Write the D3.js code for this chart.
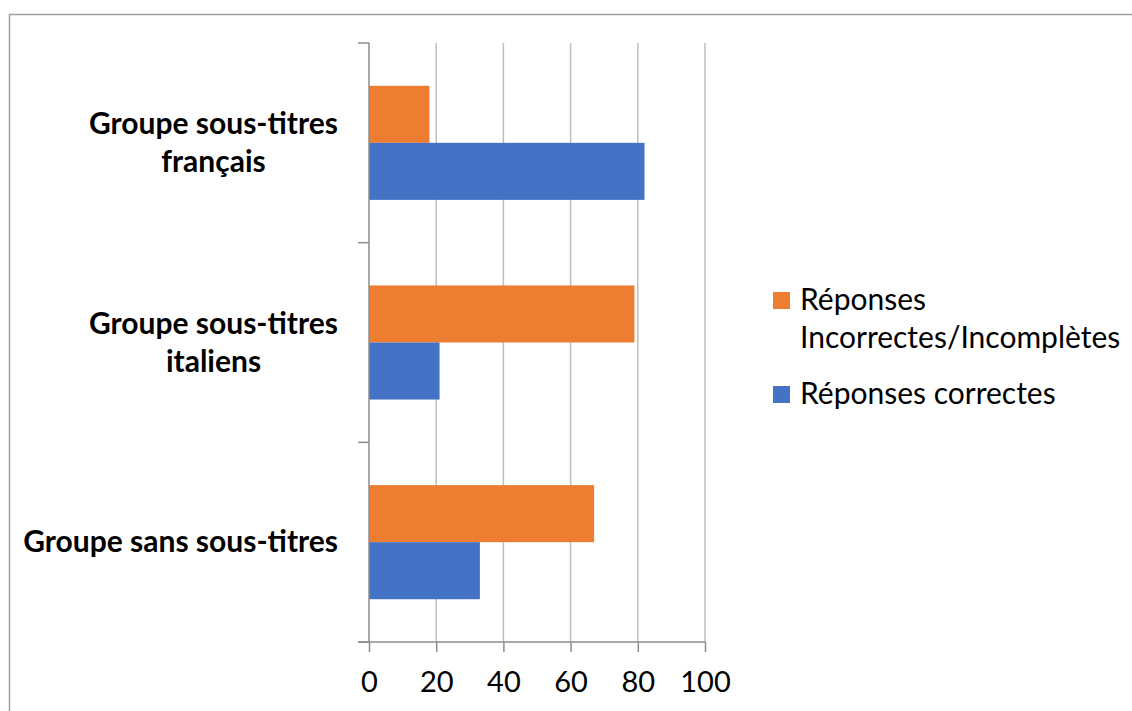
<!DOCTYPE html>
<html>
<head>
<meta charset="utf-8">
<script src="https://cdn.jsdelivr.net/npm/d3@7"></script>
<style>
  body { margin: 0; background: #fff; }
  svg { display: block; font-family: Lato, "Open Sans", sans-serif; }
</style>
</head>
<body>
<div id="container"></div>
<script>
var categories = ['Groupe sous-titres français', 'Groupe sous-titres italiens', 'Groupe sans sous-titres'],
    categoryLines = [['Groupe sous-titres', 'français'], ['Groupe sous-titres', 'italiens'], ['Groupe sans sous-titres']],
    seriesNames = ['Réponses Incorrectes/Incomplètes', 'Réponses correctes'],
    incorrectes = [18, 79, 67],
    correctes = [82, 21, 33],
    xTicks = [0, 20, 40, 60, 80, 100];

var colors = ['#ED7D31', '#4472C4'],
    width = 1132,
    height = 711;

var svg = d3.select('#container')
    .append('svg')
    .attr('width', width)
    .attr('height', height);

// chart border (runs off the right and bottom edges)
svg.append('rect')
    .attr('x', 9.5).attr('y', 14.5)
    .attr('width', 1200).attr('height', 800)
    .attr('fill', 'none')
    .attr('stroke', '#a0a0a0')
    .attr('stroke-width', 1.5);

var scaleX = d3.scaleLinear()
    .domain([0, 100])
    .range([369, 705]);

var scaleY = d3.scaleBand()
    .domain(categories)
    .range([43, 642]);

var inner = d3.scaleBand()
    .domain([0, 1])
    .range([0, scaleY.bandwidth()])
    .paddingOuter(0.75)
    .paddingInner(0);

// gridlines
svg.append('g').selectAll('line')
    .data(xTicks.slice(1))
    .enter()
    .append('line')
    .attr('x1', function(d) { return scaleX(d); })
    .attr('x2', function(d) { return scaleX(d); })
    .attr('y1', scaleY.range()[0])
    .attr('y2', scaleY.range()[1])
    .attr('stroke', '#bfbfbf')
    .attr('stroke-width', 1.5);

// bars
var rows = categories.map(function(c, i) {
    return { cat: c, vals: [incorrectes[i], correctes[i]] };
});

var group = svg.selectAll('g.cat')
    .data(rows)
    .enter()
    .append('g')
    .attr('class', 'cat')
    .attr('transform', function(d) { return 'translate(0,' + scaleY(d.cat) + ')'; });

group.selectAll('rect')
    .data(function(d) { return d.vals; })
    .enter()
    .append('rect')
    .attr('x', scaleX(0))
    .attr('y', function(d, i) { return inner(i); })
    .attr('width', function(d) { return scaleX(d) - scaleX(0); })
    .attr('height', inner.bandwidth())
    .attr('fill', function(d, i) { return colors[i]; });

// y axis line + ticks at band boundaries
var axisColor = '#8c8c8c';
svg.append('line')
    .attr('x1', scaleX(0)).attr('x2', scaleX(0))
    .attr('y1', scaleY.range()[0]).attr('y2', scaleY.range()[1])
    .attr('stroke', axisColor).attr('stroke-width', 1.5);

var bounds = d3.range(categories.length + 1).map(function(i) { return scaleY.range()[0] + i * scaleY.step(); });
svg.append('g').selectAll('line')
    .data(bounds)
    .enter()
    .append('line')
    .attr('x1', scaleX(0) - 11).attr('x2', scaleX(0))
    .attr('y1', function(d) { return d; })
    .attr('y2', function(d) { return d; })
    .attr('stroke', axisColor).attr('stroke-width', 1.5);

// x axis
var xAxis = svg.append('g')
    .attr('transform', 'translate(0,' + scaleY.range()[1] + ')')
    .call(d3.axisBottom(scaleX).tickValues(xTicks).tickSizeInner(10).tickSizeOuter(0).tickPadding(19));
xAxis.select('.domain').remove();
xAxis.append('line')
    .attr('x1', scaleX(0) - 11).attr('x2', scaleX(100))
    .attr('stroke', axisColor).attr('stroke-width', 1.5);
xAxis.selectAll('.tick line').attr('stroke', axisColor).attr('stroke-width', 1.5);
xAxis.selectAll('.tick text')
    .attr('fill', '#000')
    .style('font-size', '29px')
    .style('font-family', 'Lato, sans-serif');

// category labels
var labelRight = 338;
var labels = svg.append('g').selectAll('text')
    .data(categories)
    .enter()
    .append('text')
    .attr('text-anchor', 'middle')
    .style('font-size', '30px')
    .style('font-weight', 'bold')
    .attr('fill', '#000');

labels.each(function(c, i) {
    var t = d3.select(this),
        lines = categoryLines[i],
        lh = 38,
        cy = scaleY(c) + scaleY.bandwidth() / 2,
        y0 = cy - (lines.length - 1) * lh / 2 + 10;
    lines.forEach(function(l, j) {
        t.append('tspan').attr('y', y0 + j * lh).text(l);
    });
    var w = d3.max(t.selectAll('tspan').nodes(), function(n) { return n.getComputedTextLength(); });
    t.selectAll('tspan').attr('x', labelRight - w / 2);
});

// legend
var legend = svg.append('g');
var legendItems = [
    { lines: ['Réponses', 'Incorrectes/Incomplètes'], y: 300 },
    { lines: ['Réponses correctes'], y: 394 }
];
legendItems.forEach(function(item, i) {
    legend.append('rect')
        .attr('x', 773).attr('y', item.y - 8)
        .attr('width', 17).attr('height', 17)
        .attr('fill', colors[i]);
    var t = legend.append('text')
        .style('font-size', '30px')
        .attr('fill', '#000');
    item.lines.forEach(function(l, j) {
        t.append('tspan').attr('x', 800).attr('y', item.y + 10 + j * 38).text(l);
    });
});
</script>
</body>
</html>
